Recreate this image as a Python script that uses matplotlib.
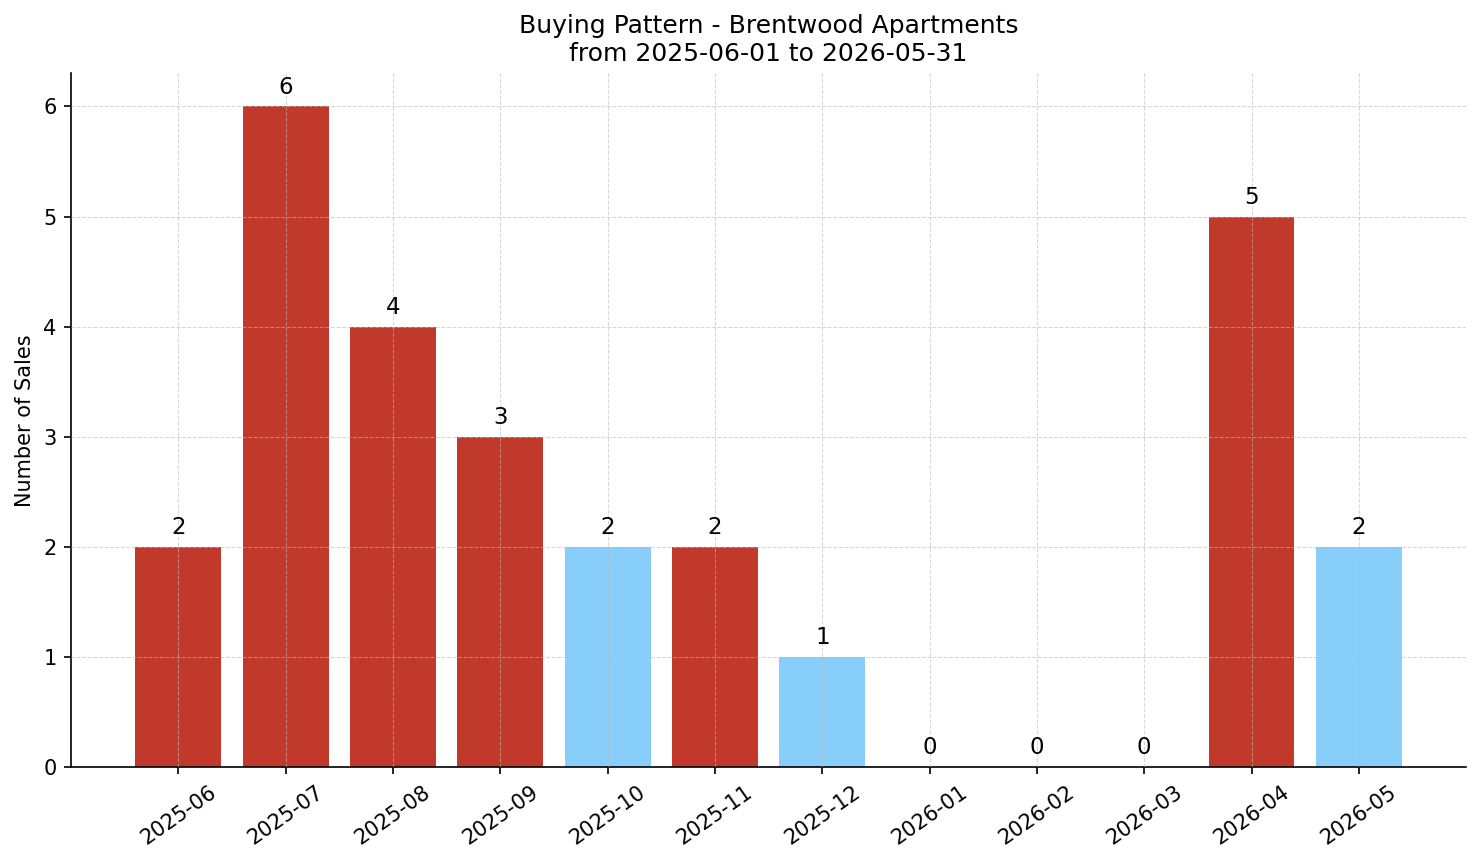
import numpy as np
import matplotlib.pyplot as plt

# --- Data ---
months = ['2025-06', '2025-07', '2025-08', '2025-09', '2025-10', '2025-11',
          '2025-12', '2026-01', '2026-02', '2026-03', '2026-04', '2026-05']
sales = [2, 6, 4, 3, 2, 2, 1, 0, 0, 0, 5, 2]
highlight = [True, True, True, True, False, True, False, False, False, False, True, False]

RED = '#C0392B'
BLUE = '#87CEFA'
colors = [RED if h else BLUE for h in highlight]

# --- Plot ---
fig, ax = plt.subplots(figsize=(1481 / 150, 863 / 150), dpi=150)
x = np.arange(len(months))
ax.bar(x, sales, width=0.8, color=colors, zorder=2)

for xi, v in zip(x, sales):
    ax.text(xi, v + 0.07, str(v), ha='center', va='bottom', fontsize=11)

ax.set_xticks(x)
ax.set_xticklabels(months, rotation=35, fontsize=10)
ax.tick_params(axis='y', labelsize=10)
ax.set_xlim(-1, 12)
ax.set_ylim(0, 6.3)
ax.set_ylabel('Number of Sales', fontsize=10)
ax.set_title('Buying Pattern - Brentwood Apartments\nfrom 2025-06-01 to 2026-05-31',
             fontsize=12)
ax.grid(True, linestyle='--', linewidth=0.5, color='#bbbbbb', alpha=0.6, zorder=3)
ax.set_axisbelow(False)

ax.spines['top'].set_visible(False)
ax.spines['right'].set_visible(False)

fig.subplots_adjust(left=0.048, right=0.99, top=0.915, bottom=0.111)
fig.savefig('out.png', dpi=150)
plt.close(fig)
